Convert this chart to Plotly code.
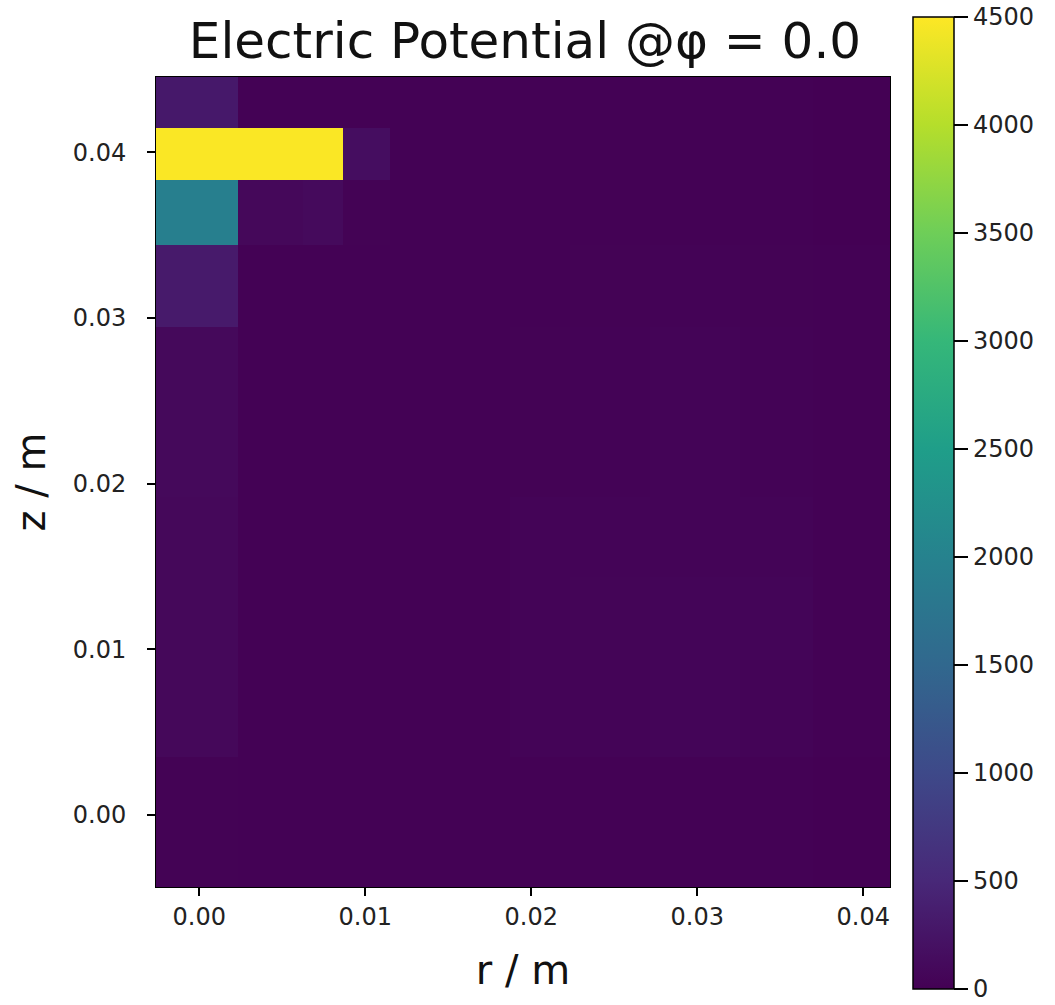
import plotly.graph_objects as go

# Cell edges of the adaptive r-z mesh (metres)
r_edges = [-0.00261, 0.00233, 0.00625, 0.00866, 0.01149, 0.01872,
           0.02233, 0.02715, 0.03257, 0.03697, 0.04161]
z_edges = [-0.00435, 0.00350, 0.00935, 0.01436, 0.01919, 0.02945,
           0.03440, 0.03832, 0.04146, 0.04454]

# Potential per cell (V), rows ordered by increasing z
potential = [
    [20,   10,   10,   10,  10, 15, 15, 15, 10, 5],
    [90,   10,   10,   10,  10, 40, 40, 50, 40, 10],
    [90,   10,   10,   10,  10, 40, 45, 50, 50, 10],
    [90,   10,   10,   10,  10, 35, 35, 40, 35, 10],
    [100,  10,   10,   10,  10, 20, 30, 40, 30, 10],
    [320,  10,   10,   10,  10, 10, 20, 30, 20, 10],
    [1950, 90,   110,  20,  10, 10, 10, 15, 10, 5],
    [4480, 4480, 4480, 160, 10, 10, 10, 10, 10, 5],
    [300,  10,   10,   10,  10, 10, 10, 10, 10, 5],
]

r_ticks = [0.00, 0.01, 0.02, 0.03, 0.04]
z_ticks = [0.00, 0.01, 0.02, 0.03, 0.04]
cbar_ticks = [0, 500, 1000, 1500, 2000, 2500, 3000, 3500, 4000, 4500]

W, H = 1055, 1005
FONT = "DejaVu Sans"
PLOT_TOP, PLOT_BOTTOM = 77, 887
PLOT_H = PLOT_BOTTOM - PLOT_TOP

# colour bar extent in pixels, expressed in paper units of the plot area
CB_TOP, CB_BOTTOM = 17, 989

fig = go.Figure(
    go.Heatmap(
        x=r_edges,
        y=z_edges,
        z=potential,
        colorscale="Viridis",
        zmin=0,
        zmax=4500,
        zsmooth=False,
        colorbar=dict(
            xref="container",
            x=913 / W,
            xanchor="left",
            y=(PLOT_BOTTOM - CB_TOP) / PLOT_H,
            yanchor="top",
            lenmode="fraction",
            len=(CB_BOTTOM - CB_TOP) / PLOT_H,
            thickness=41,
            outlinecolor="black",
            outlinewidth=1.5,
            tickvals=cbar_ticks,
            ticks="outside",
            ticklen=14,
            tickcolor="black",
            tickwidth=1.5,
            tickprefix="\u2002",
            ticklabeloverflow="allow",
            tickfont=dict(family=FONT, size=24, color="#222"),
            xpad=0,
            ypad=0,
        ),
    )
)

axis_common = dict(
    showline=True,
    linecolor="black",
    linewidth=1,
    mirror=True,
    ticks="outside",
    ticklen=8,
    tickwidth=1.5,
    tickcolor="black",
    tickformat=".2f",
    showgrid=False,
    zeroline=False,
    tickfont=dict(family=FONT, size=24, color="#222"),
)

fig.update_xaxes(
    range=[r_edges[0], r_edges[-1]],
    tickvals=r_ticks,
    title=dict(text="r / m", font=dict(family=FONT, size=40, color="#111"), standoff=26),
    **axis_common,
)
fig.update_yaxes(
    range=[z_edges[0], z_edges[-1]],
    tickvals=z_ticks,
    ticklabelstandoff=16,
    title=dict(text="z / m", font=dict(family=FONT, size=40, color="#111"), standoff=14),
    **axis_common,
)

fig.update_layout(
    width=W,
    height=H,
    margin=dict(l=156, r=165, t=PLOT_TOP, b=H - PLOT_BOTTOM),
    paper_bgcolor="white",
    plot_bgcolor="white",
    title=dict(
        text="Electric Potential @φ = 0.0",
        font=dict(family=FONT, size=50, color="#111"),
        x=525 / W,
        xanchor="center",
        xref="container",
        y=1 - 40 / H,
        yanchor="middle",
        yref="container",
    ),
)

fig.write_html("out.html")
